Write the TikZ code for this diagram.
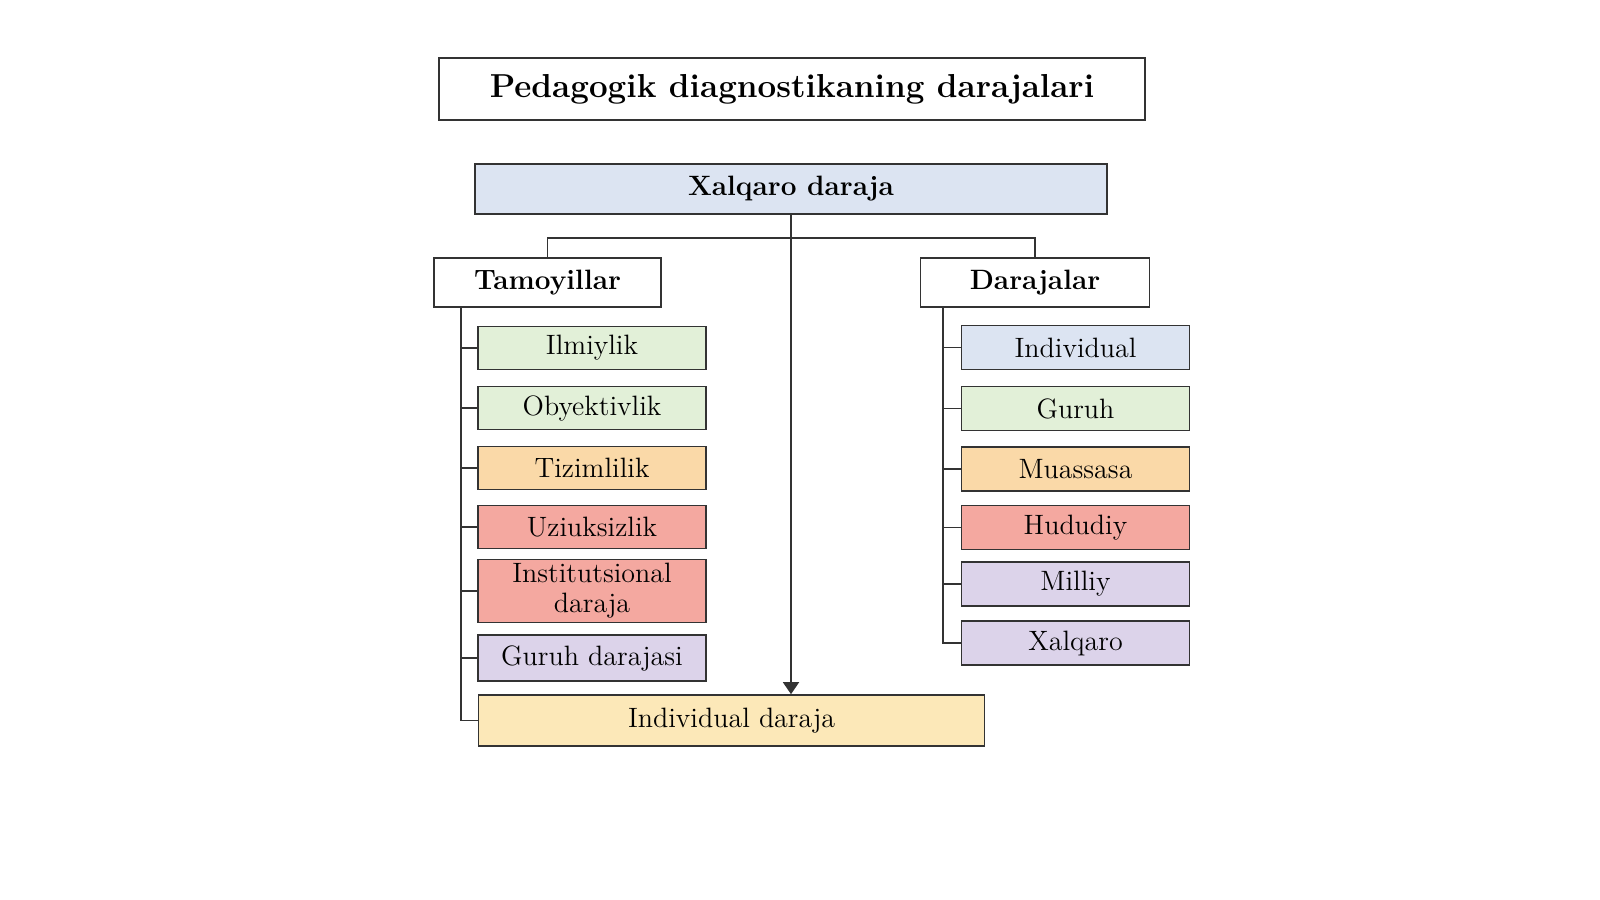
\documentclass[tikz,border=0pt]{standalone}
\usetikzlibrary{arrows.meta}

\definecolor{cblue}{HTML}{DCE4F2}
\definecolor{cgreen}{HTML}{E2F0D8}
\definecolor{cpeach}{HTML}{FAD9A8}
\definecolor{csalmon}{HTML}{F4A8A0}
\definecolor{clav}{HTML}{DCD3EA}
\definecolor{cyellow}{HTML}{FCE8B8}
\definecolor{cline}{HTML}{333333}

\begin{document}
\begin{tikzpicture}[x=0.5pt,y=-0.5pt]
\tikzstyle{every node}=[draw=cline, line width=0.8pt, inner sep=2pt, align=center, font=\fontsize{14}{15}\selectfont];
\tikzstyle{head}=[font=\bfseries\fontsize{14}{16}\selectfont, minimum height=24.5pt];
\tikzstyle{item}=[minimum width=114pt, minimum height=21.5pt];
\tikzstyle{link}=[draw=cline, line width=0.8pt];

\useasboundingbox (0,0) rectangle (1600,899);

\draw (792,89) node[minimum width=353pt, minimum height=31pt, font=\bfseries\fontsize{16.6}{19}\selectfont] (title) {Pedagogik diagnostikaning darajalari};

\draw (791,189) node[head, fill=cblue, minimum width=316pt, minimum height=25pt] (xd) {Xalqaro daraja};

\draw (547.5,282.5) node[head, minimum width=113.5pt] (tam) {Tamoyillar};
\draw (1035,282.5) node[head, minimum width=114.5pt] (dar) {Darajalar};

% tamoyillar
\draw (592,348) node[item, fill=cgreen] (il) {Ilmiylik};
\draw (592,408) node[item, fill=cgreen] (ob) {Obyektivlik};
\draw (592,468) node[item, fill=cpeach] (ti) {Tizimlilik};
\draw (592,527) node[item, fill=csalmon] (uz) {Uziuksizlik};
\draw (592,591) node[item, fill=csalmon, minimum height=30pt] (it) {Institutsional\\daraja};
\draw (592,658) node[item, fill=clav, minimum height=23pt] (gd) {Guruh darajasi};

\draw (731.6,720.5) node[fill=cyellow, minimum width=253pt, minimum height=25.5pt] (id) {Individual daraja};

% darajalar
\draw (1075.5,347.5) node[item, fill=cblue, minimum height=22pt] (r1) {Individual};
\draw (1075.5,408.5) node[item, fill=cgreen, minimum height=22pt] (r2) {Guruh};
\draw (1075.5,469) node[item, fill=cpeach, minimum height=22pt] (r3) {Muassasa};
\draw (1075.5,527.5) node[item, fill=csalmon, minimum height=22pt] (r4) {Hududiy};
\draw (1075.5,584) node[item, fill=clav, minimum height=22pt] (r5) {Milliy};
\draw (1075.5,643) node[item, fill=clav, minimum height=22pt] (r6) {Xalqaro};

\coordinate (j) at (791,238);
\coordinate (ls) at (461,307);
\coordinate (rs) at (943,307);

\draw[link] (tam.north) |- (j) -| (dar.north);
\draw[link, -{Triangle[length=6pt, width=8pt]}] (xd.south) -- (xd.south |- id.north);

\foreach \n in {il,ob,ti,uz,it,gd,id}
  \draw[link] (ls) |- (\n.west);
\foreach \n in {r1,r2,r3,r4,r5,r6}
  \draw[link] (rs) |- (\n.west);

\end{tikzpicture}
\end{document}
